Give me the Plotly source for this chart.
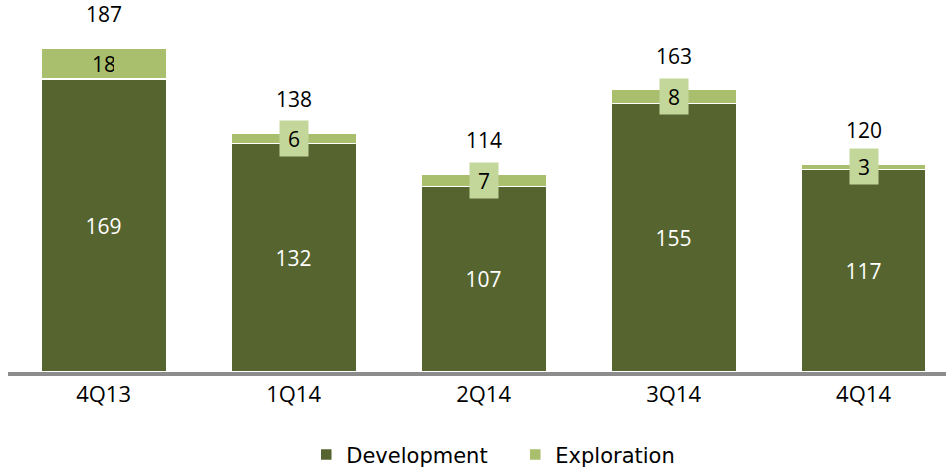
import plotly.graph_objects as go

quarters = ["4Q13", "1Q14", "2Q14", "3Q14", "4Q14"]
development = [169, 132, 107, 155, 117]
exploration = [18, 6, 7, 8, 3]
totals = [187, 138, 114, 163, 120]

DEV_GREEN = "#566530"
EXP_GREEN = "#A9BF6E"
LABEL_BOX = "#C4D79B"
NUM_FONT = "Open Sans"

xs = list(range(len(quarters)))

fig = go.Figure()
fig.add_bar(
    x=xs, y=development, name="Development",
    marker=dict(color=DEV_GREEN, line=dict(color="white", width=1.5)),
    width=0.66,
    text=development, textposition="inside", insidetextanchor="middle",
    textfont=dict(color="white", size=21, family=NUM_FONT),
)
fig.add_bar(
    x=xs, y=exploration, name="Exploration",
    marker=dict(color=EXP_GREEN, line=dict(color="white", width=1.5)),
    width=0.66,
)

# exploration labels: boxed when the segment is too thin to hold the number
for x, d, e in zip(xs, development, exploration):
    fig.add_annotation(
        x=x, y=d + e / 2, text=str(e), showarrow=False,
        font=dict(size=21, family=NUM_FONT, color="black"),
        bgcolor=LABEL_BOX if e < 10 else "rgba(0,0,0,0)",
        width=20, height=27, borderpad=4,
    )

# totals above the stacks
for x, t in zip(xs, totals):
    fig.add_annotation(
        x=x, y=t, text=str(t), showarrow=False, yshift=34,
        font=dict(size=21, family=NUM_FONT, color="black"),
    )

fig.update_layout(
    barmode="stack",
    width=946, height=468,
    margin=dict(l=8, r=0, t=0, b=96, autoexpand=False),
    paper_bgcolor="white", plot_bgcolor="white",
    showlegend=True,
    legend=dict(
        orientation="h", traceorder="normal",
        x=0.318, xanchor="left", y=-0.223, yanchor="middle",
        entrywidth=164, entrywidthmode="pixels",
        font=dict(size=21, family="DejaVu Sans", color="black"),
    ),
    xaxis=dict(
        range=[-0.503, 4.434],
        tickvals=xs, ticktext=quarters,
        tickfont=dict(size=22, family=NUM_FONT, color="black"),
        showline=True, linecolor="#8C8C8C", linewidth=4,
        ticks="", showgrid=False, zeroline=False,
    ),
    yaxis=dict(range=[0, 214.7], visible=False),
)

# drop the default body margin so the figure sits at the page origin
fig.write_html(
    "out.html",
    config={"displayModeBar": False},
    post_script="document.body.style.margin='0';document.body.style.overflow='hidden';",
)
